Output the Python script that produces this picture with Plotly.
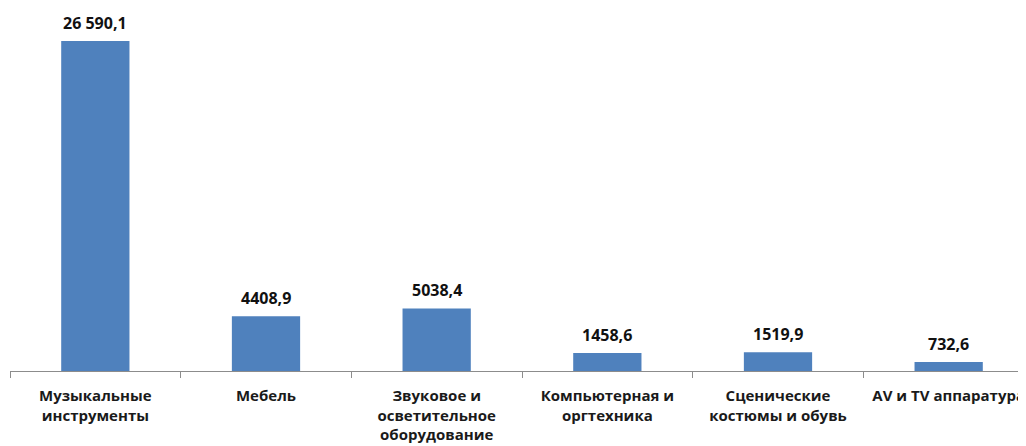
import plotly.graph_objects as go

categories = [
    "Музыкальные<br>инструменты",
    "Мебель",
    "Звуковое и<br>осветительное<br>оборудование",
    "Компьютерная и<br>оргтехника",
    "Сценические<br>костюмы и обувь",
    "AV и TV аппаратура",
]
values = [26590.1, 4408.9, 5038.4, 1458.6, 1519.9, 732.6]
value_labels = ["26 590,1", "4408,9", "5038,4", "1458,6", "1519,9", "732,6"]

FONT = "Open Sans"

fig = go.Figure(go.Bar(
    x=categories,
    y=values,
    marker=dict(color="#4F81BD", line=dict(width=0)),
    hoverinfo="x+y",
))

for c, v, t in zip(categories, values, value_labels):
    fig.add_annotation(
        x=c, y=v, text=t, showarrow=False,
        xanchor="center", yanchor="bottom", yshift=5,
        font=dict(family=FONT, size=16, color="#111111", weight="bold"),
    )

fig.update_layout(
    width=1026,
    height=446,
    margin=dict(l=2, r=0, t=0, b=83),
    plot_bgcolor="white",
    paper_bgcolor="white",
    bargap=0.6,
    showlegend=False,
    xaxis=dict(
        type="category",
        range=[-0.5, 5.5],
        tickson="boundaries",
        ticks="outside",
        ticklen=6,
        tickcolor="#8c8c8c",
        showline=True,
        linecolor="#8c8c8c",
        linewidth=1,
        showgrid=False,
        automargin=False,
        tickangle=0,
        ticklabelstandoff=11,
        tickfont=dict(family=FONT, size=15, color="#1a1a1a", weight="bold"),
    ),
    yaxis=dict(
        range=[0, 29249],
        visible=False,
        showgrid=False,
        zeroline=False,
    ),
)

fig.write_html("out.html")
